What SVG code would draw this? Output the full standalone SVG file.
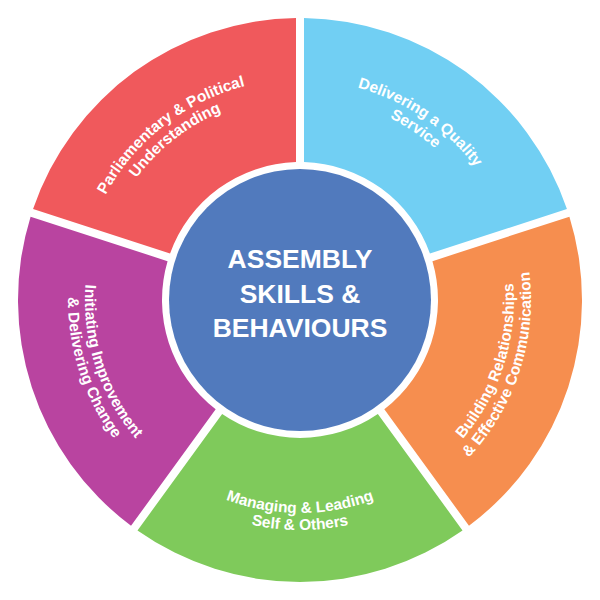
<svg xmlns="http://www.w3.org/2000/svg" width="600" height="600" viewBox="0 0 600 600">
<style>
  .seg-text { font-family: "Liberation Sans", Arial, sans-serif; font-weight: bold; font-size: 15.5px; fill: #ffffff; }
  .center-text { font-family: "Liberation Sans", Arial, sans-serif; font-weight: bold; font-size: 26.5px; fill: #ffffff; }
</style>
<defs>
  <path id="p-red-1" d="M79.13,292.29 A221,221 0 0 1 345.95,83.83"/>
  <path id="p-red-2" d="M96.12,292.88 A204,204 0 0 1 342.41,100.46"/>
  <path id="p-cyan-1" d="M239.36,88.52 A220,220 0 0 1 518.79,277.00"/>
  <path id="p-cyan-2" d="M244.05,104.86 A203,203 0 0 1 501.89,278.78"/>
  <path id="p-orange-1" d="M380.17,498.42 A214,214 0 0 0 481.48,186.60"/>
  <path id="p-orange-2" d="M386.53,514.18 A231,231 0 0 0 495.90,177.59"/>
  <path id="p-green-1" d="M136.83,436.91 A213,213 0 0 0 463.17,436.91"/>
  <path id="p-green-2" d="M123.81,447.84 A230,230 0 0 0 476.19,447.84"/>
  <path id="p-purple-1" d="M117.67,186.07 A215,215 0 0 0 219.46,499.34"/>
  <path id="p-purple-2" d="M103.25,177.06 A232,232 0 0 0 213.10,515.11"/>
</defs>
<rect width="600" height="600" fill="#ffffff"/>

<g id="delivering-quality-service">
  <path d="M304,18.03 A282,282 0 0 1 566.93,209.06 L429.95,253.57 A138,138 0 0 0 304,162.06 Z" fill="#71CFF3"/>
  <text class="seg-text" text-anchor="middle"><textPath href="#p-cyan-1" startOffset="50%">Delivering a Quality</textPath></text>
  <text class="seg-text" text-anchor="middle"><textPath href="#p-cyan-2" startOffset="50%">Service</textPath></text>
</g>

<g id="building-relationships">
  <path d="M569.41,216.67 A282,282 0 0 1 468.98,525.77 L384.32,409.25 A138,138 0 0 0 432.43,261.18 Z" fill="#F68E4F"/>
  <text class="seg-text" text-anchor="middle"><textPath href="#p-orange-1" startOffset="50%">Building Relationships</textPath></text>
  <text class="seg-text" text-anchor="middle"><textPath href="#p-orange-2" startOffset="50%">&amp; Effective Communication</textPath></text>
</g>

<g id="managing-leading">
  <path d="M462.50,530.47 A282,282 0 0 1 137.50,530.47 L222.16,413.95 A138,138 0 0 0 377.84,413.95 Z" fill="#7FCA5B"/>
  <text class="seg-text" text-anchor="middle"><textPath href="#p-green-1" startOffset="50%">Managing &amp; Leading</textPath></text>
  <text class="seg-text" text-anchor="middle"><textPath href="#p-green-2" startOffset="50%">Self &amp; Others</textPath></text>
</g>

<g id="initiating-improvement">
  <path d="M131.02,525.77 A282,282 0 0 1 30.59,216.67 L167.57,261.18 A138,138 0 0 0 215.68,409.25 Z" fill="#B944A0"/>
  <text class="seg-text" text-anchor="middle"><textPath href="#p-purple-1" startOffset="50%">Initiating Improvement</textPath></text>
  <text class="seg-text" text-anchor="middle"><textPath href="#p-purple-2" startOffset="50%">&amp; Delivering Change</textPath></text>
</g>

<g id="parliamentary-political">
  <path d="M33.07,209.06 A282,282 0 0 1 296,18.03 L296,162.06 A138,138 0 0 0 170.05,253.57 Z" fill="#F0595C"/>
  <text class="seg-text" text-anchor="middle"><textPath href="#p-red-1" startOffset="50%">Parliamentary &amp; Political</textPath></text>
  <text class="seg-text" text-anchor="middle"><textPath href="#p-red-2" startOffset="50%">Understanding</textPath></text>
</g>

<g id="assembly-skills-behaviours">
  <circle cx="300" cy="300" r="131" fill="#517ABD"/>
  <text class="center-text" text-anchor="middle" x="300" y="268">ASSEMBLY</text>
  <text class="center-text" text-anchor="middle" x="300" y="303">SKILLS &amp;</text>
  <text class="center-text" text-anchor="middle" x="300" y="337">BEHAVIOURS</text>
</g>
</svg>
